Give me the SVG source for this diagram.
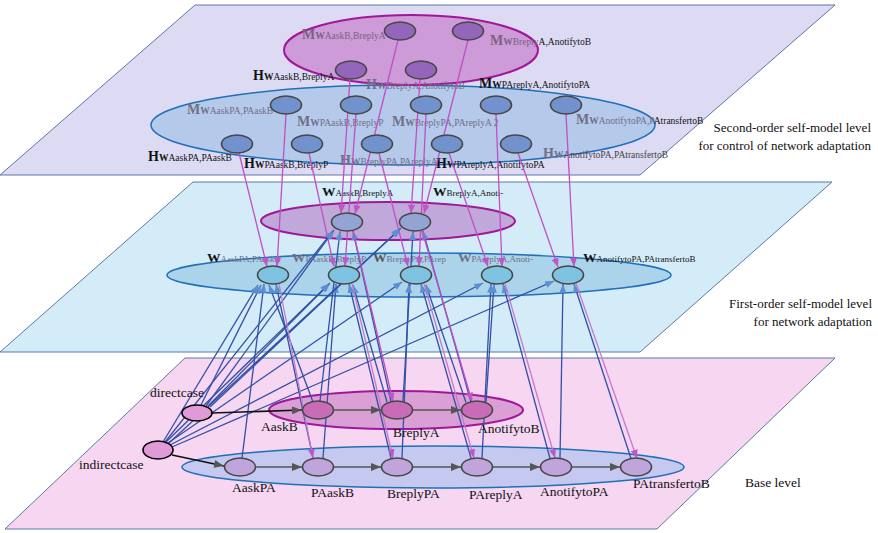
<svg xmlns="http://www.w3.org/2000/svg" width="878" height="533" viewBox="0 0 878 533">
<style>
.pl{stroke:#5a78a8;stroke-width:1}
.ep{stroke:#a0189a;stroke-width:2}
.eb{stroke:#1f70b8;stroke-width:1.5}
.n{stroke:#474747;stroke-width:1.6}
text{font-family:"Liberation Serif","Times New Roman",serif}
.big{font-size:14px;font-weight:bold}
.w{font-size:9.5px;font-weight:bold}
.s{font-size:9.5px}
.mw{font-size:13.5px;font-weight:bold}
.ms{font-size:9px}
.g{fill:#6f6f86}
.gp{fill:#7a6282}
.k{fill:#111}
.bl{font-size:13.5px;fill:#111}
.rl{font-size:13px;fill:#111;text-anchor:end}
.p{stroke:#c24ec4;stroke-width:1.3;fill:none;marker-end:url(#ap)}
.pl2{stroke:#c77acb;stroke-width:1.3;fill:none;marker-end:url(#ap)}
.b{stroke:#3350a6;stroke-width:1.3;fill:none;marker-end:url(#ab)}
.c{stroke:#555;stroke-width:1.6;fill:none;marker-end:url(#ag)}
.c0{stroke:#111;stroke-width:1.6;fill:none;marker-end:url(#ag)}
</style>
<defs>
<marker id="ap" viewBox="0 0 10 8" refX="10" refY="4" markerWidth="9" markerHeight="7" markerUnits="userSpaceOnUse" orient="auto"><path d="M0,0 L10,4 L0,8 z" fill="#c055c8"/></marker>
<marker id="ab" viewBox="0 0 10 8" refX="10" refY="4" markerWidth="9" markerHeight="7" markerUnits="userSpaceOnUse" orient="auto"><path d="M0,0 L10,4 L0,8 z" fill="#5b8fd0"/></marker>
<marker id="ag" viewBox="0 0 10 8" refX="10" refY="4" markerWidth="10" markerHeight="8" markerUnits="userSpaceOnUse" orient="auto"><path d="M0,0 L10,4 L0,8 z" fill="#555"/></marker>
</defs>
<rect width="878" height="533" fill="#fff"/>
<g id="planes">
<polygon class="pl" points="195,5 835,5 640,175 0,175" fill="#dddbf4"/>
<polygon class="pl" points="193,182 832,182 640,352 0,352" fill="#d4ecf8"/>
<polygon class="pl" points="185,358 835,358 657,529 5,529" fill="#f6d6f1"/>
</g>
<g id="groups">
<ellipse class="eb" cx="403" cy="125" rx="252" ry="40" fill="#b5c9eb"/>
<ellipse class="ep" cx="411" cy="50" rx="127" ry="35" fill="#cc9bd8"/>
<ellipse class="ep" cx="388" cy="221" rx="127" ry="19" fill="#c1a8da"/>
<ellipse class="eb" cx="419" cy="275" rx="252" ry="22" fill="#abd3ea"/>
<ellipse class="ep" cx="396" cy="410" rx="127" ry="19" fill="#daa0d6"/>
<ellipse class="eb" cx="433" cy="467" rx="251" ry="21" fill="#c6c9ef"/>
</g>
<g id="labels2">
<text x="302" y="39" class="gp"><tspan class="big">M</tspan><tspan class="w">W</tspan><tspan class="s">AaskB,BreplyA</tspan></text>
<text x="490" y="45"><tspan class="big gp">M</tspan><tspan class="w gp">W</tspan><tspan class="s gp">Breply</tspan><tspan class="s k">A,AnotifytoB</tspan></text>
<text x="253" y="80" class="k"><tspan class="big">H</tspan><tspan class="w">W</tspan><tspan class="s">AaskB,BreplyA</tspan></text>
<text x="366" y="89" class="g"><tspan class="big">H</tspan><tspan class="w">W</tspan><tspan class="s">BreplyA,AnotifytoB</tspan></text>
<text x="479" y="88" class="k"><tspan class="big">M</tspan><tspan class="w">W</tspan><tspan class="s">PAreplyA,AnotifytoPA</tspan></text>
<text x="187" y="114" class="g"><tspan class="big">M</tspan><tspan class="w">W</tspan><tspan class="s">AaskPA,PAaskB</tspan></text>
<text x="297" y="126" class="g"><tspan class="big">M</tspan><tspan class="w">W</tspan><tspan class="s">PAaskB,BreplyP</tspan></text>
<text x="392" y="126" class="g"><tspan class="big">M</tspan><tspan class="w">W</tspan><tspan class="s">BreplyPA,PAreplyA 2</tspan></text>
<text x="576" y="124"><tspan class="big g">M</tspan><tspan class="w g">W</tspan><tspan class="s g">AnotifytoPA,P</tspan><tspan class="s k">AtransfertoB</tspan></text>
<text x="148" y="161" class="k"><tspan class="big">H</tspan><tspan class="w">W</tspan><tspan class="s">AaskPA,PAaskB</tspan></text>
<text x="244" y="168" class="k"><tspan class="big">H</tspan><tspan class="w">W</tspan><tspan class="s">PAaskB,BreplyP</tspan></text>
<text x="340" y="165" class="g"><tspan class="big">H</tspan><tspan class="w">W</tspan><tspan class="s">BreplyPA,PAreplyA</tspan></text>
<text x="436" y="168" class="k"><tspan class="big">H</tspan><tspan class="w">W</tspan><tspan class="s" font-size="8.8">PAreplyA,AnotifytoPA</tspan></text>
<text x="543" y="158"><tspan class="big g">H</tspan><tspan class="w g">W</tspan><tspan class="s" fill="#444" font-size="9">AnotifytoPA,PAtransfertoB</tspan></text>
</g>
<g id="labels1">
<text x="322" y="196" class="k"><tspan class="mw" font-size="14.5">W</tspan><tspan class="ms" font-size="9.5">AaskB,BreplyA</tspan></text>
<text x="433" y="196" class="k"><tspan class="mw" font-size="14.5">W</tspan><tspan class="ms" font-size="9.5">BreplyA,Anoti-</tspan></text>
<text x="207" y="262"><tspan class="mw k">W</tspan><tspan class="ms g">AaskPA,PAaskB</tspan></text>
<text x="292" y="262" class="g"><tspan class="mw">W</tspan><tspan class="ms">PAaskB,BreplyP</tspan></text>
<text x="373" y="262" class="g"><tspan class="mw" fill="#555">W</tspan><tspan class="ms">BreplyPA,PArep</tspan></text>
<text x="458" y="262" class="g"><tspan class="mw">W</tspan><tspan class="ms">PAreplyA,Anoti-</tspan></text>
<text x="583" y="262" class="k"><tspan class="mw">W</tspan><tspan class="ms">AnotifytoPA,PAtransfertoB</tspan></text>
</g>
<g id="connectors">
<line class="p" x1="398" y1="40" x2="355" y2="214"/>
<line class="p" x1="350" y1="79" x2="341" y2="213.5"/>
<line class="p" x1="468" y1="40" x2="424" y2="213.5"/>
<line class="p" x1="420" y1="79" x2="411" y2="213.5"/>
<line class="p" x1="286" y1="114" x2="277" y2="266.5"/>
<line class="p" x1="239" y1="153" x2="267" y2="266.5"/>
<line class="p" x1="356" y1="114" x2="345" y2="266"/>
<line class="p" x1="309" y1="153" x2="334" y2="266.5"/>
<line class="p" x1="426" y1="114" x2="419" y2="266"/>
<line class="p" x1="379" y1="153" x2="408" y2="266.5"/>
<line class="p" x1="496" y1="114" x2="502" y2="266.5"/>
<line class="p" x1="449" y1="153" x2="488" y2="266.5"/>
<line class="p" x1="566" y1="114" x2="574" y2="266.5"/>
<line class="p" x1="518" y1="153" x2="558" y2="267"/>
<line class="b" x1="320" y1="401" x2="340" y2="231.5"/>
<line class="b" x1="391" y1="401.5" x2="353" y2="231"/>
<line class="b" x1="403" y1="401" x2="413" y2="231.5"/>
<line class="b" x1="471" y1="402" x2="423" y2="231"/>
<line class="b" x1="242" y1="458" x2="264" y2="284"/>
<line class="b" x1="313" y1="458" x2="276" y2="284"/>
<line class="b" x1="323" y1="458" x2="336" y2="284"/>
<line class="b" x1="391" y1="458" x2="349" y2="284"/>
<line class="b" x1="402" y1="458" x2="409" y2="284"/>
<line class="b" x1="471" y1="458" x2="421" y2="284"/>
<line class="b" x1="482" y1="458" x2="491" y2="284"/>
<line class="b" x1="550" y1="458.5" x2="503" y2="284"/>
<line class="b" x1="560" y1="458" x2="563" y2="284"/>
<line class="b" x1="631" y1="458.5" x2="574" y2="284"/>
<line class="b" x1="313" y1="402" x2="269" y2="285"/>
<line class="b" x1="387" y1="402" x2="353" y2="285"/>
<line class="b" x1="466" y1="402.5" x2="426" y2="285"/>
<line class="b" x1="486" y1="402" x2="494" y2="284"/>
<line class="b" x1="206" y1="406" x2="334" y2="230"/>
<line class="b" x1="210" y1="407" x2="401" y2="228"/>
<line class="b" x1="201" y1="405" x2="261" y2="285"/>
<line class="b" x1="208" y1="406" x2="330" y2="283"/>
<line class="b" x1="163" y1="442" x2="258" y2="285"/>
<line class="b" x1="166" y1="442" x2="329" y2="284"/>
<line class="b" x1="168" y1="443" x2="402" y2="282"/>
<line class="b" x1="170" y1="445" x2="483" y2="283"/>
<line class="b" x1="172" y1="447" x2="554" y2="281"/>
<line class="b" x1="165" y1="442" x2="333" y2="231"/>
<line class="b" x1="169" y1="443" x2="400" y2="229"/>
<line class="pl2" x1="279" y1="284" x2="313" y2="458"/>
<line class="pl2" x1="352" y1="283.5" x2="393" y2="458"/>
<line class="pl2" x1="424" y1="283.5" x2="474" y2="458"/>
<line class="pl2" x1="505" y1="283.5" x2="555" y2="458"/>
<line class="pl2" x1="576" y1="283.5" x2="637" y2="458.5"/>
<line class="p" x1="353" y1="230.5" x2="393" y2="401.5"/>
<line class="p" x1="422" y1="230.5" x2="472" y2="401.5"/>
<line class="c0" x1="212" y1="413" x2="302" y2="410"/>
<line class="c0" x1="172" y1="455" x2="224" y2="466"/>
<line class="c" x1="334" y1="410" x2="381" y2="410"/>
<line class="c" x1="413" y1="410" x2="461" y2="410"/>
<line class="c" x1="256" y1="467" x2="302" y2="467"/>
<line class="c" x1="334" y1="467" x2="381" y2="467"/>
<line class="c" x1="413" y1="467" x2="461" y2="467"/>
<line class="c" x1="493" y1="467" x2="540" y2="467"/>
<line class="c" x1="572" y1="467" x2="620" y2="467"/>
</g>
<g id="n-MWAaskB"><ellipse class="n" cx="400" cy="31" rx="15.5" ry="9" fill="#9366bb"/></g>
<g id="n-MWBreplyA"><ellipse class="n" cx="468" cy="31" rx="15.5" ry="9" fill="#9366bb"/></g>
<g id="n-HWAaskB"><ellipse class="n" cx="351" cy="70" rx="15.5" ry="9" fill="#9366bb"/></g>
<g id="n-HWBreplyA"><ellipse class="n" cx="421" cy="70" rx="15.5" ry="9" fill="#9366bb"/></g>
<g id="n-MWAaskPA"><ellipse class="n" cx="286" cy="105" rx="15.5" ry="9" fill="#7192cc"/></g>
<g id="n-MWPAaskB"><ellipse class="n" cx="356" cy="105" rx="15.5" ry="9" fill="#7192cc"/></g>
<g id="n-MWBreplyPA"><ellipse class="n" cx="426" cy="105" rx="15.5" ry="9" fill="#7192cc"/></g>
<g id="n-MWPAreplyA"><ellipse class="n" cx="496" cy="105" rx="15.5" ry="9" fill="#7192cc"/></g>
<g id="n-MWAnotifytoPA"><ellipse class="n" cx="566" cy="105" rx="15.5" ry="9" fill="#7192cc"/></g>
<g id="n-HWAaskPA"><ellipse class="n" cx="237" cy="144" rx="15.5" ry="9" fill="#7192cc"/></g>
<g id="n-HWPAaskB"><ellipse class="n" cx="307" cy="144" rx="15.5" ry="9" fill="#7192cc"/></g>
<g id="n-HWBreplyPA"><ellipse class="n" cx="377" cy="144" rx="15.5" ry="9" fill="#7192cc"/></g>
<g id="n-HWPAreplyA"><ellipse class="n" cx="447" cy="144" rx="15.5" ry="9" fill="#7192cc"/></g>
<g id="n-HWAnotifytoPA"><ellipse class="n" cx="516" cy="144" rx="15.5" ry="9" fill="#7192cc"/></g>
<g id="n-WAaskB"><ellipse class="n" cx="347" cy="222" rx="15.5" ry="9" fill="#93a4d4"/></g>
<g id="n-WBreplyA"><ellipse class="n" cx="415" cy="222" rx="15.5" ry="9" fill="#93a4d4"/></g>
<g id="n-WAaskPA"><ellipse class="n" cx="273" cy="275" rx="15.5" ry="9" fill="#7ec4e2"/></g>
<g id="n-WPAaskB"><ellipse class="n" cx="344" cy="275" rx="15.5" ry="9" fill="#7ec4e2"/></g>
<g id="n-WBreplyPA"><ellipse class="n" cx="416" cy="275" rx="15.5" ry="9" fill="#7ec4e2"/></g>
<g id="n-WPAreplyA"><ellipse class="n" cx="497" cy="275" rx="15.5" ry="9" fill="#7ec4e2"/></g>
<g id="n-WAnotifytoPA"><ellipse class="n" cx="568" cy="275" rx="15.5" ry="9" fill="#7ec4e2"/></g>
<g id="n-directcase"><ellipse cx="197" cy="413" rx="15" ry="8" fill="#e09ad8" stroke="#000" stroke-width="1.6"/><text x="150" y="397" class="bl">directcase</text></g>
<g id="n-indirectcase"><ellipse cx="158" cy="450" rx="15" ry="9" fill="#e09ad8" stroke="#000" stroke-width="1.6"/><text x="79" y="469" class="bl">indirectcase</text></g>
<g id="n-AaskB"><ellipse class="n" cx="318" cy="410" rx="15.5" ry="9" fill="#c86cb8"/><text x="261" y="431" class="bl">AaskB</text></g>
<g id="n-BreplyA"><ellipse class="n" cx="397" cy="410" rx="15.5" ry="9" fill="#c86cb8"/><text x="393" y="437" class="bl">BreplyA</text></g>
<g id="n-AnotifytoB"><ellipse class="n" cx="477" cy="410" rx="15.5" ry="9" fill="#c86cb8"/><text x="478" y="433" class="bl">AnotifytoB</text></g>
<g id="n-AaskPA"><ellipse class="n" cx="240" cy="467" rx="15.5" ry="9" fill="#c0a4dc"/><text x="232" y="492" class="bl">AaskPA</text></g>
<g id="n-PAaskB"><ellipse class="n" cx="318" cy="467" rx="15.5" ry="9" fill="#c0a4dc"/><text x="311" y="497" class="bl">PAaskB</text></g>
<g id="n-BreplyPA"><ellipse class="n" cx="397" cy="467" rx="15.5" ry="9" fill="#c0a4dc"/><text x="387" y="498" class="bl">BreplyPA</text></g>
<g id="n-PAreplyA"><ellipse class="n" cx="477" cy="467" rx="15.5" ry="9" fill="#c0a4dc"/><text x="469" y="499" class="bl">PAreplyA</text></g>
<g id="n-AnotifytoPA"><ellipse class="n" cx="556" cy="467" rx="15.5" ry="9" fill="#c0a4dc"/><text x="540" y="496" class="bl">AnotifytoPA</text></g>
<g id="n-PAtransfertoB"><ellipse class="n" cx="636" cy="467" rx="15.5" ry="9" fill="#c0a4dc"/><text x="633" y="488" class="bl">PAtransfertoB</text></g>
<g id="levels">
<text x="871" y="132" class="rl">Second-order self-model level</text>
<text x="871" y="150" class="rl">for control of network adaptation</text>
<text x="872" y="308" class="rl">First-order self-model level</text>
<text x="872" y="326" class="rl">for network adaptation</text>
<text x="745" y="487" class="bl">Base level</text>
</g>
</svg>
